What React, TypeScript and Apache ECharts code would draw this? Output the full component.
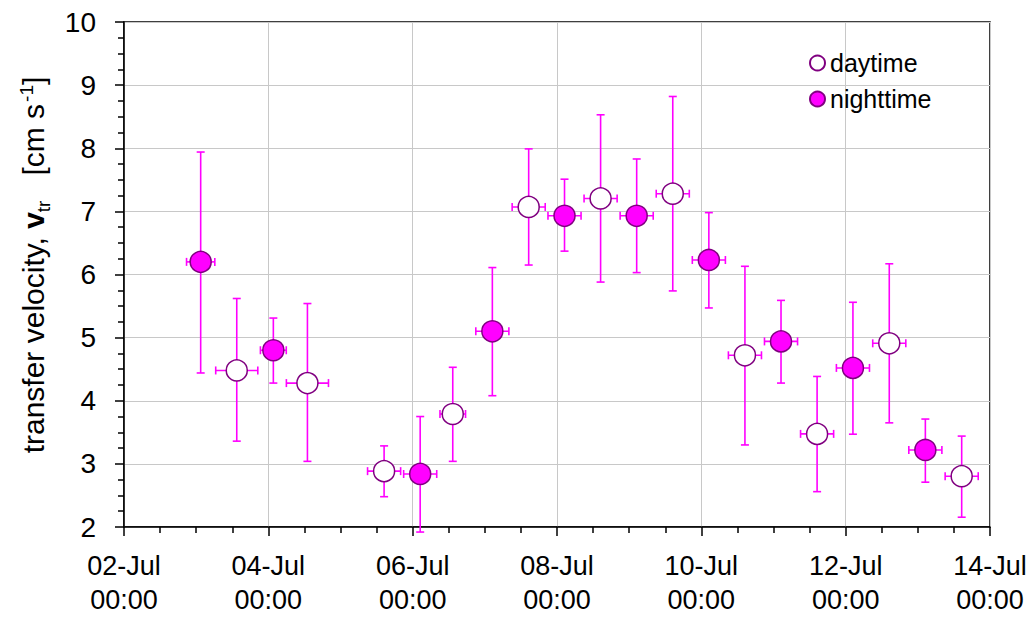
import React, { useEffect, useRef } from "react";
import * as echarts from "echarts";

// x tick labels (every 2 days)
const xTickLabels = ["02-Jul\n00:00", "04-Jul\n00:00", "06-Jul\n00:00", "08-Jul\n00:00", "10-Jul\n00:00", "12-Jul\n00:00", "14-Jul\n00:00"];
const yTicks = [2, 3, 4, 5, 6, 7, 8, 9, 10];

const ORIGIN = "2012-07-02T00:00:00Z";

// daytime: time, value, lower, upper, horizontal half-width (hours)
const dayTimes = ["2012-07-03T13:30", "2012-07-04T13:00", "2012-07-05T14:30", "2012-07-06T13:20", "2012-07-07T14:35", "2012-07-08T14:30", "2012-07-09T14:30", "2012-07-10T14:30", "2012-07-11T14:30", "2012-07-12T14:30", "2012-07-13T14:35"];
const dayValues = [4.48, 4.28, 2.885, 3.79, 7.07, 7.205, 7.28, 4.72, 3.475, 4.91, 2.805];
const dayLower = [3.36, 3.04, 2.48, 3.04, 6.15, 5.88, 5.74, 3.30, 2.56, 3.65, 2.155];
const dayUpper = [5.62, 5.54, 3.285, 4.53, 7.99, 8.53, 8.82, 6.13, 4.385, 6.17, 3.44];
const dayHalfWidthH = [7, 7, 5.5, 4.25, 5.5, 5.5, 5.5, 5.5, 5.5, 5.5, 5.5];

// nighttime
const nightTimes = ["2012-07-03T01:30", "2012-07-04T01:40", "2012-07-06T02:30", "2012-07-07T02:30", "2012-07-08T02:30", "2012-07-09T02:30", "2012-07-10T02:30", "2012-07-11T02:30", "2012-07-12T02:25", "2012-07-13T02:30"];
const nightValues = [6.20, 4.80, 2.84, 5.10, 6.93, 6.93, 6.23, 4.94, 4.52, 3.22];
const nightLower = [4.44, 4.28, 1.92, 4.08, 6.37, 6.03, 5.47, 4.28, 3.47, 2.71];
const nightUpper = [7.94, 5.31, 3.75, 6.11, 7.51, 7.83, 6.98, 5.59, 5.56, 3.71];
const nightHalfWidthH = [4.7, 4.3, 5.5, 5.5, 5.5, 5.5, 5.5, 5.5, 5.5, 5.5];

const DAY_MS = 86400000;
const origin = Date.parse(ORIGIN);
const toDays = (t: string) => (Date.parse(t + ":00Z") - origin) / DAY_MS;

const build = (times: string[], vals: number[], lo: number[], hi: number[], hw: number[]) =>
  times.map((t, i) => [toDays(t), vals[i], lo[i], hi[i], hw[i] / 24]);

const ERR = "#ff00ff";
const EDGE = "#800080";

function errRender(params: any, api: any) {
  const x = api.value(0);
  const y = api.value(1);
  const lo = api.value(2);
  const hi = api.value(3);
  const hw = api.value(4);
  const top = api.coord([x, hi]);
  const bot = api.coord([x, lo]);
  const left = api.coord([x - hw, y]);
  const right = api.coord([x + hw, y]);
  const cap = 4;
  const st = { stroke: ERR, lineWidth: 1.6 };
  const ln = (x1: number, y1: number, x2: number, y2: number) => ({
    type: "line",
    shape: { x1, y1, x2, y2 },
    style: st,
  });
  return {
    type: "group",
    children: [
      ln(top[0], top[1], bot[0], bot[1]),
      ln(top[0] - cap, top[1], top[0] + cap, top[1]),
      ln(bot[0] - cap, bot[1], bot[0] + cap, bot[1]),
      ln(left[0], left[1], right[0], right[1]),
      ln(left[0], left[1] - cap, left[0], left[1] + cap),
      ln(right[0], right[1] - cap, right[0], right[1] + cap),
    ],
  };
}

export default function App() {
  const ref = useRef<HTMLDivElement>(null);
  useEffect(() => {
    if (!ref.current) return;
    const chart = echarts.init(ref.current, undefined, { renderer: "svg" });
    const dayData = build(dayTimes, dayValues, dayLower, dayUpper, dayHalfWidthH);
    const nightData = build(nightTimes, nightValues, nightLower, nightUpper, nightHalfWidthH);
    const font = "Liberation Sans, Arial, sans-serif";
    chart.setOption({
      animation: false,
      backgroundColor: "#ffffff",
      textStyle: { fontFamily: font },
      grid: {
        left: 124,
        right: 45,
        top: 22,
        bottom: 91,
        show: true,
        borderColor: "#000",
        borderWidth: 1.5,
        containLabel: false,
      },
      legend: {
        orient: "vertical",
        left: 804,
        top: 45,
        itemWidth: 15,
        itemHeight: 15,
        itemGap: 10,
        icon: "circle",
        textStyle: { fontSize: 25, color: "#000", fontFamily: font, lineHeight: 26 },
        data: ["daytime", "nighttime"],
      },
      xAxis: {
        type: "value",
        min: 0,
        max: 12,
        interval: 2,
        axisLine: { show: true, lineStyle: { color: "#000", width: 1.5 } },
        axisTick: { show: true, length: 9, lineStyle: { color: "#000", width: 1.5 } },
        minorTick: { show: true, splitNumber: 4, length: 6, lineStyle: { color: "#000", width: 1.5 } },
        splitLine: { show: true, lineStyle: { color: "#c8c8c8", width: 1 } },
        axisLabel: {
          fontSize: 27,
          color: "#000",
          lineHeight: 34,
          margin: 22,
          fontFamily: font,
          formatter: (v: number) => xTickLabels[Math.round(v / 2)] ?? "",
        },
      },
      yAxis: {
        type: "value",
        min: yTicks[0],
        max: yTicks[yTicks.length - 1],
        interval: 1,
        axisLine: { show: true, lineStyle: { color: "#000", width: 1.5 } },
        axisTick: { show: true, length: 9, lineStyle: { color: "#000", width: 1.5 } },
        minorTick: { show: true, splitNumber: 4, length: 6, lineStyle: { color: "#000", width: 1.5 } },
        splitLine: { show: true, lineStyle: { color: "#c8c8c8", width: 1 } },
        axisLabel: { fontSize: 28, color: "#000", margin: 28, fontFamily: font },
      },
      graphic: [
        {
          type: "text",
          x: 33,
          y: 265,
          rotation: Math.PI / 2,
          style: {
            text: "{a|transfer velocity, }{b|v}{sub|tr}{a|   [cm s}{sup|-1}{a|]}",
            align: "center",
            verticalAlign: "middle",
            fill: "#000",
            rich: {
              a: { fontSize: 30, fontFamily: font, fill: "#000", lineHeight: 36, verticalAlign: "middle" },
              b: { fontSize: 30, fontFamily: font, fontWeight: "bold", fill: "#000", lineHeight: 36, verticalAlign: "middle" },
              sub: { fontSize: 19, fontFamily: font, fill: "#000", lineHeight: 22, verticalAlign: "bottom", padding: [0, 0, -2, 0] },
              sup: { fontSize: 19, fontFamily: font, fill: "#000", lineHeight: 22, verticalAlign: "top", padding: [2, 0, 0, 2] },
            },
          },
        },
      ],
      series: [
        {
          name: "dayErr",
          type: "custom",
          renderItem: errRender,
          data: dayData,
          encode: { x: 0, y: 1 },
          clip: false,
          z: 2,
          silent: true,
        },
        {
          name: "nightErr",
          type: "custom",
          renderItem: errRender,
          data: nightData,
          encode: { x: 0, y: 1 },
          clip: false,
          z: 2,
          silent: true,
        },
        {
          name: "daytime",
          type: "scatter",
          symbol: "circle",
          symbolSize: 21,
          data: dayData.map((d) => [d[0], d[1]]),
          itemStyle: { color: "#ffffff", borderColor: EDGE, borderWidth: 1.5, opacity: 1 },
          z: 5,
        },
        {
          name: "nighttime",
          type: "scatter",
          symbol: "circle",
          symbolSize: 21,
          data: nightData.map((d) => [d[0], d[1]]),
          itemStyle: { color: "#ff00ff", borderColor: EDGE, borderWidth: 1.5, opacity: 1 },
          z: 5,
        },
      ],
    });
    return () => chart.dispose();
  }, []);
  return (
    <div
      ref={ref}
      style={{ position: "absolute", left: 0, top: 0, width: 1035, height: 618 }}
    />
  );
}
